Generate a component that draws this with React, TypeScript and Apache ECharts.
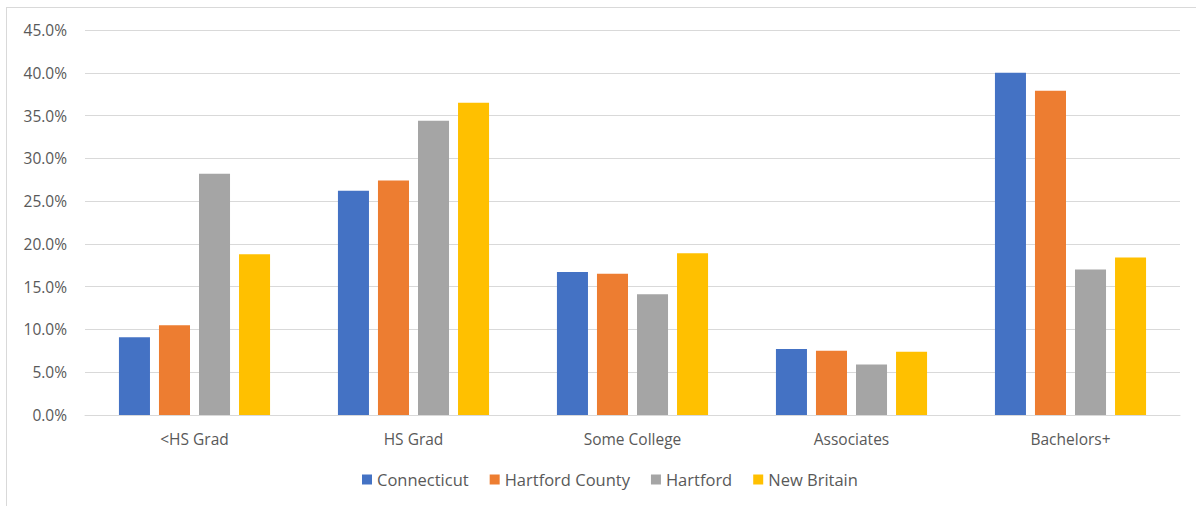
import React, { useEffect, useRef } from "react";
import * as echarts from "echarts";

const categories = ["<HS Grad", "HS Grad", "Some College", "Associates", "Bachelors+"];
const seriesNames = ["Connecticut", "Hartford County", "Hartford", "New Britain"];
const connecticut = [9.1, 26.2, 16.7, 7.7, 40.0];
const hartfordCounty = [10.5, 27.4, 16.5, 7.5, 37.9];
const hartford = [28.2, 34.4, 14.1, 5.9, 17.0];
const newBritain = [18.8, 36.5, 18.9, 7.4, 18.4];
const colors = ["#4472C4", "#ED7D31", "#A5A5A5", "#FFC000"];

const FONT = "Open Sans";
const TEXT = "#595959";

export default function App() {
  const ref = useRef<HTMLDivElement>(null);

  useEffect(() => {
    document.body.style.margin = "0";
    if (!ref.current) return;
    const chart = echarts.init(ref.current, undefined, { renderer: "svg" });
    const values = [connecticut, hartfordCounty, hartford, newBritain];
    chart.setOption({
      animation: false,
      color: colors,
      grid: { left: 85, right: 16, top: 30, bottom: 91, containLabel: false },
      graphic: [
        { type: "line", shape: { x1: 6.5, y1: 7, x2: 6.5, y2: 506 }, style: { stroke: "#d9d9d9", lineWidth: 1 } },
        { type: "line", shape: { x1: 6, y1: 7.5, x2: 1196, y2: 7.5 }, style: { stroke: "#d9d9d9", lineWidth: 1 } },
      ],
      legend: {
        bottom: 13,
        left: 357,
        itemWidth: 10,
        itemHeight: 10,
        itemGap: 21,
        icon: "rect",
        textStyle: { color: TEXT, fontFamily: FONT, fontSize: 16.5 },
        data: seriesNames,
      },
      xAxis: {
        type: "category",
        data: categories,
        axisLine: { lineStyle: { color: "#d9d9d9", width: 1 } },
        axisTick: { show: false },
        axisLabel: { color: TEXT, fontFamily: FONT, fontSize: 15.5, margin: 16 },
      },
      yAxis: {
        type: "value",
        min: 0,
        max: 45,
        interval: 5,
        axisLine: { show: false },
        axisTick: { show: false },
        splitLine: { lineStyle: { color: "#d9d9d9", width: 1 } },
        axisLabel: {
          color: TEXT,
          fontFamily: FONT,
          fontSize: 15.5,
          margin: 18,
          formatter: (v: number) => v.toFixed(1) + "%",
        },
      },
      series: seriesNames.map((name, i) => ({
        name,
        type: "bar",
        data: values[i],
        barGap: "29%",
        barCategoryGap: "31%",
        itemStyle: { color: colors[i] },
      })),
    });
    return () => chart.dispose();
  }, []);

  return <div ref={ref} style={{ width: 1196, height: 506 }} />;
}
